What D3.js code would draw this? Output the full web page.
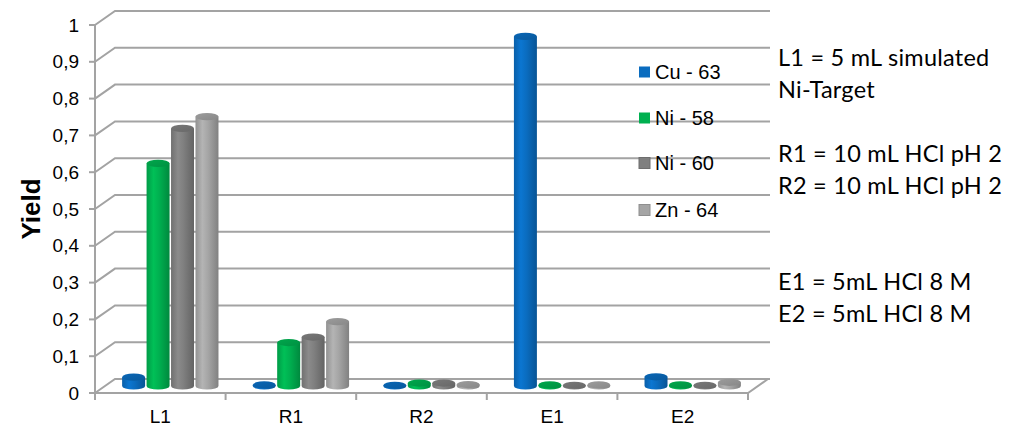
<!DOCTYPE html>
<html>
<head>
<meta charset="utf-8">
<script src="https://cdn.jsdelivr.net/npm/d3@7"></script>
<style>
  html, body { margin: 0; padding: 0; background: #fff; }
  svg { display: block; }
</style>
</head>
<body>
<svg id="chart" width="1014" height="428"></svg>
<script>
// Sample steps (L = load, R = rinse, E = elution)
const categories = ["L1", "R1", "R2", "E1", "E2"];

// Isotope series and their yields per step
const seriesNames = ["Cu - 63", "Ni - 58", "Ni - 60", "Zn - 64"];
const cu63 = [0.024, 0.003, 0.002, 0.95, 0.025];
const ni58 = [0.605, 0.118, 0.008, 0.003, 0.003];
const ni60 = [0.70, 0.133, 0.008, 0.002, 0.002];
const zn64 = [0.732, 0.175, 0.004, 0.003, 0.010];
const seriesValues = [cu63, ni58, ni60, zn64];

// Y axis ticks and their labels (decimal comma)
const yTicks = [0, 0.1, 0.2, 0.3, 0.4, 0.5, 0.6, 0.7, 0.8, 0.9, 1];
const yTickLabels = ["0", "0,1", "0,2", "0,3", "0,4", "0,5", "0,6", "0,7", "0,8", "0,9", "1"];

// Notes printed to the right of the plot
const notes = [
  { text: "L1 = 5 mL simulated", line: 0 },
  { text: "Ni-Target", line: 1 },
  { text: "R1 = 10 mL HCl pH 2", line: 3 },
  { text: "R2 = 10 mL HCl pH 2", line: 4 },
  { text: "E1 = 5mL HCl 8 M", line: 7 },
  { text: "E2 = 5mL HCl 8 M", line: 8 }
];

const seriesColors = ["#0a6cbf", "#00b050", "#7f7f7f", "#a5a5a5"];

const svg = d3.select("#chart");
const gridColor = "#a3a3a3";
const sans = "Liberation Sans, Arial, sans-serif";

// Front plane geometry plus an oblique depth offset for the 3D look
const plotLeft = 95, plotRight = 748;
const depthX = 20, depthY = -14;

const y = d3.scaleLinear().domain([0, 1]).range([393, 25]);
const x0 = d3.scaleBand().domain(categories).range([plotLeft, plotRight]).padding(0);
const x1 = d3.scaleBand().domain(seriesNames).range([0, x0.bandwidth()])
  .paddingInner(0.06).paddingOuter(0.7);

// Gradients for the cylinders
const defs = svg.append("defs");
seriesColors.forEach((c, i) => {
  const base = d3.color(c);
  const g = defs.append("linearGradient").attr("id", "body" + i)
    .attr("x1", 0).attr("x2", 1).attr("y1", 0).attr("y2", 0);
  g.append("stop").attr("offset", "0%").attr("stop-color", base.darker(0.35));
  g.append("stop").attr("offset", "30%").attr("stop-color", base.brighter(0.25));
  g.append("stop").attr("offset", "55%").attr("stop-color", base);
  g.append("stop").attr("offset", "100%").attr("stop-color", base.darker(0.7));
  const t = defs.append("linearGradient").attr("id", "top" + i)
    .attr("x1", 0).attr("x2", 1).attr("y1", 0).attr("y2", 1);
  t.append("stop").attr("offset", "0%").attr("stop-color", base.darker(0.15));
  t.append("stop").attr("offset", "100%").attr("stop-color", base.darker(0.55));
});

// Back wall gridlines with their oblique link to the front axis
const grid = svg.append("g");
yTicks.forEach(v => {
  grid.append("path")
    .attr("d", `M${plotLeft},${y(v)} L${plotLeft + depthX},${y(v) + depthY} L${plotRight + depthX + 2},${y(v) + depthY}`)
    .attr("fill", "none").attr("stroke", gridColor).attr("stroke-width", 2);
});

// Floor outline
svg.append("path")
  .attr("d", `M${plotLeft},${y(0)} L${plotRight},${y(0)} L${plotRight + depthX},${y(0) + depthY}`)
  .attr("fill", "none").attr("stroke", gridColor).attr("stroke-width", 2);

// Value axis line and tick marks
svg.append("line")
  .attr("x1", plotLeft).attr("x2", plotLeft).attr("y1", y(1)).attr("y2", y(0) + 1)
  .attr("stroke", gridColor).attr("stroke-width", 2);
svg.append("g").selectAll("line").data(yTicks).join("line")
  .attr("x1", plotLeft - 6).attr("x2", plotLeft)
  .attr("y1", d => y(d)).attr("y2", d => y(d))
  .attr("stroke", gridColor).attr("stroke-width", 2);

svg.append("g").selectAll("text").data(yTicks).join("text")
  .attr("x", plotLeft - 16).attr("y", d => y(d))
  .attr("dy", "0.35em").attr("text-anchor", "end")
  .attr("font-family", sans).attr("font-size", 19)
  .attr("fill", "#000")
  .text((d, i) => yTickLabels[i]);

// Category axis tick marks
const catEdges = categories.map(c => x0(c)).concat([plotRight]);
svg.append("g").selectAll("line").data(catEdges).join("line")
  .attr("x1", d => d).attr("x2", d => d)
  .attr("y1", y(0)).attr("y2", y(0) + 7)
  .attr("stroke", gridColor).attr("stroke-width", 2);

svg.append("g").selectAll("text").data(categories).join("text")
  .attr("x", d => x0(d) + x0.bandwidth() / 2)
  .attr("y", 423).attr("text-anchor", "middle")
  .attr("font-family", sans).attr("font-size", 19)
  .attr("fill", "#000")
  .text(d => d);

// Axis title
svg.append("text")
  .attr("transform", "translate(40,209) rotate(-90)")
  .attr("text-anchor", "middle")
  .attr("font-family", sans)
  .attr("font-size", 26).attr("font-weight", "bold")
  .text("Yield");

// Cylinders, standing halfway into the depth
const rx = x1.bandwidth() / 2, ry = 3.6;
const midX = depthX / 2, midY = depthY / 2;
const bars = [];
categories.forEach((c, ci) => {
  seriesNames.forEach((s, si) => {
    bars.push({ c, s, si, v: seriesValues[si][ci] });
  });
});

const barG = svg.append("g");
bars.forEach(b => {
  const cx = x0(b.c) + x1(b.s) + rx + midX;
  const yBase = y(0) + midY;
  const yTop = y(b.v) + midY;
  const g = barG.append("g");
  g.append("path")
    .attr("d", `M${cx - rx},${yTop} L${cx - rx},${yBase} A${rx},${ry} 0 0 0 ${cx + rx},${yBase} L${cx + rx},${yTop} Z`)
    .attr("fill", `url(#body${b.si})`);
  g.append("ellipse")
    .attr("cx", cx).attr("cy", yTop).attr("rx", rx).attr("ry", ry)
    .attr("fill", `url(#top${b.si})`);
});

// Legend
const legend = svg.append("g");
seriesNames.forEach((s, i) => {
  const ly = [72, 118, 163, 210][i];
  legend.append("rect")
    .attr("x", 639).attr("y", ly - 5.5).attr("width", 11).attr("height", 11)
    .attr("fill", seriesColors[i])
    .attr("stroke", d3.color(seriesColors[i]).darker(0.4)).attr("stroke-width", i > 1 ? 1 : 0);
  legend.append("text")
    .attr("x", 655).attr("y", ly).attr("dy", "0.35em")
    .attr("font-family", sans).attr("font-size", 20)
    .attr("fill", "#000")
    .text(s);
});

// Notes on the right
svg.append("g").selectAll("text").data(notes).join("text")
  .attr("x", 778).attr("y", d => 66 + d.line * 32)
  .attr("font-family", "Lato, sans-serif").attr("font-size", 23.5)
  .attr("letter-spacing", 0.25)
  .attr("fill", "#000")
  .text(d => d.text);
</script>
</body>
</html>
